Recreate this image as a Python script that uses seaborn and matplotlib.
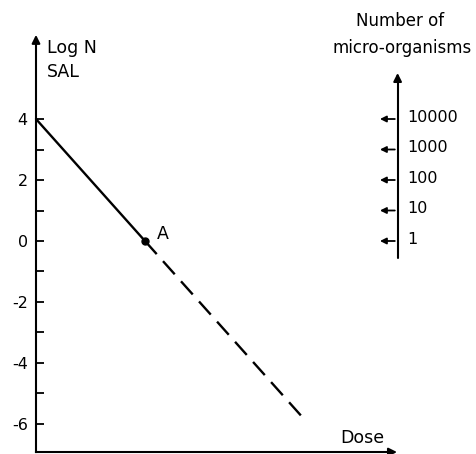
import matplotlib
matplotlib.use("Agg")
import matplotlib.pyplot as plt
import seaborn as sns
import numpy as np
import pandas as pd

# ---- data ----
dose_solid = [0.0, 4.0]
log_n_solid = [4.0, 0.0]
dose_dashed = [4.0, 9.75]
log_n_dashed = [0.0, -5.75]
point_a = (4.0, 0.0)
major_ticks = [-6, -4, -2, 0, 2, 4]
minor_ticks = [-5, -3, -1, 1, 3]
micro_counts = [1, 10, 100, 1000, 10000]
micro_labels = ["1", "10", "100", "1000", "10000"]

sns.set_style("white")
plt.rcParams["font.family"] = ["DejaVu Sans"]
plt.rcParams["axes.unicode_minus"] = False
plt.rcParams["text.color"] = "black"
plt.rcParams["ytick.color"] = "black"
plt.rcParams["ytick.labelcolor"] = "black"

fig = plt.figure(figsize=(4.76, 4.54), dpi=100)
ax = fig.add_axes([0, 0, 1, 1])
ax.set_xlim(-1.321, 16.147)
ax.set_ylim(-6.984, 7.902)

solid = pd.DataFrame({"dose": dose_solid, "logn": log_n_solid})
dashed = pd.DataFrame({"dose": dose_dashed, "logn": log_n_dashed})
sns.lineplot(data=solid, x="dose", y="logn", ax=ax, color="black", lw=1.7)
sns.lineplot(data=dashed, x="dose", y="logn", ax=ax, color="black", lw=1.7,
             dashes=False, linestyle=(0, (7.45, 4)))
ax.plot([point_a[0]], [point_a[1]], "o", color="black", ms=5)
ax.text(point_a[0] + 0.45, point_a[1] + 0.22, "A", fontsize=12.5, va="center", ha="left",
        color="black")

# axes
y_bottom = -6.92
x_axis_end = 13.35
y_axis_top = 6.85
for s in ["top", "right"]:
    ax.spines[s].set_visible(False)
ax.spines["left"].set_position(("data", 0))
ax.spines["left"].set_bounds(y_bottom, y_axis_top - 0.2)
ax.spines["bottom"].set_position(("data", y_bottom))
ax.spines["bottom"].set_bounds(0, x_axis_end - 0.3)
for s in ["left", "bottom"]:
    ax.spines[s].set_linewidth(1.5)
    ax.spines[s].set_color("black")
ax.annotate("", xy=(0, y_axis_top), xytext=(0, y_axis_top - 0.4),
            arrowprops=dict(arrowstyle="-|>", color="black", lw=1.5, mutation_scale=12))
ax.annotate("", xy=(x_axis_end, y_bottom), xytext=(x_axis_end - 0.5, y_bottom),
            arrowprops=dict(arrowstyle="-|>", color="black", lw=1.5, mutation_scale=12))

ax.set_yticks(major_ticks)
ax.set_yticklabels([str(v) for v in major_ticks])
ax.set_yticks(minor_ticks, minor=True)
ax.tick_params(axis="y", which="both", direction="in", length=6, width=1.3,
               labelsize=11.5, pad=6, left=True, colors="black")
ax.set_xticks([])
ax.set_xlabel("")
ax.set_ylabel("")

ax.text(0.4, 6.33, "Log N", fontsize=12.5, va="center", ha="left", color="black")
ax.text(0.4, 5.54, "SAL", fontsize=12.5, va="center", ha="left", color="black")
ax.text(11.16, -6.475, "Dose", fontsize=12.5, va="center", ha="left", color="black")

# secondary scale: number of micro-organisms
x_right = 13.27
ax.plot([x_right, x_right], [-0.56, 5.3], color="black", lw=1.5)
ax.annotate("", xy=(x_right, 5.6), xytext=(x_right, 5.2),
            arrowprops=dict(arrowstyle="-|>", color="black", lw=1.5, mutation_scale=12))
for c, lab in zip(micro_counts, micro_labels):
    v = np.log10(c)
    ax.annotate("", xy=(x_right - 0.75, v), xytext=(x_right, v),
                arrowprops=dict(arrowstyle="-|>", color="black", lw=1.3, mutation_scale=9))
    ax.text(x_right + 0.34, v + 0.05, lab, fontsize=11.5, va="center", ha="left",
            color="black")
ax.text(13.36, 7.21, "Number of", fontsize=12, va="center", ha="center", color="black")
ax.text(13.43, 6.33, "micro-organisms", fontsize=12, va="center", ha="center", color="black")

fig.savefig("out.png", dpi=100)
